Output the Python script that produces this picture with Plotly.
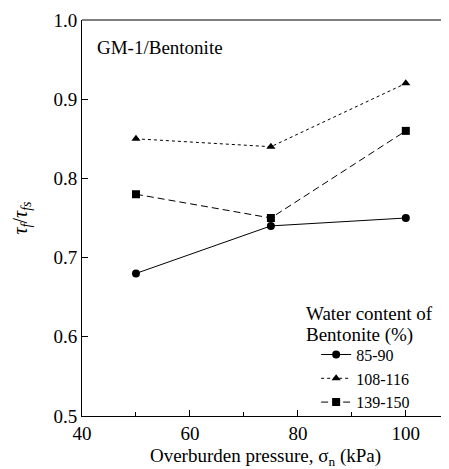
import plotly.graph_objects as go

pressure = [50, 75, 100]
series_names = ["85-90", "108-116", "139-150"]
ratio_85_90 = [0.68, 0.74, 0.75]
ratio_108_116 = [0.85, 0.84, 0.92]
ratio_139_150 = [0.78, 0.75, 0.86]
legend_title_lines = ["Water content of", "Bentonite (%)"]

FONT = "'Liberation Serif', 'Times New Roman', Times, 'DejaVu Serif', serif"

fig = go.Figure()
styles = [
    (ratio_85_90, "circle", "solid"),
    (ratio_108_116, "triangle-up", "3px,3px"),
    (ratio_139_150, "square", "7px,4px"),
]
for name, (vals, sym, dash) in zip(series_names, styles):
    fig.add_trace(go.Scatter(
        x=pressure, y=vals, name=name, mode="lines+markers",
        line=dict(color="black", width=1, dash=dash),
        marker=dict(symbol=sym, size=8, color="black"),
    ))

annotations = [dict(
    x=0.035, y=0.93, xref="paper", yref="paper", xanchor="left", yanchor="middle",
    text="GM-1/Bentonite", showarrow=False, font=dict(family=FONT, size=19),
)]
for txt, yy in zip(legend_title_lines, [0.260, 0.2045]):
    annotations.append(dict(
        x=0.605, y=yy, xref="paper", yref="paper", xanchor="left", yanchor="middle",
        text=txt, showarrow=False, font=dict(family=FONT, size=19),
    ))

# page body has an 8px margin, so the figure is shifted by (8, 8)
fig.update_layout(
    width=441, height=461,
    margin=dict(l=74, r=0, t=12, b=53),
    plot_bgcolor="white", paper_bgcolor="white",
    font=dict(family=FONT, size=18, color="black"),
    showlegend=True,
    legend=dict(
        x=0.638, xanchor="left", y=0.198, yanchor="top",
        font=dict(family=FONT, size=16), bgcolor="rgba(0,0,0,0)", tracegroupgap=0,
        itemwidth=30,
    ),
    annotations=annotations,
)
fig.update_xaxes(
    range=[40, 108], tickvals=[40, 60, 80, 100], ticks="inside", ticklen=6,
    showline=True, linecolor="black", linewidth=1, mirror=False, showgrid=False,
    zeroline=False, minor=dict(tickvals=[50, 70, 90], ticks="inside", ticklen=4, tickcolor="black"),
    tickcolor="black", tickfont=dict(family=FONT, size=19),
    title=dict(text="Overburden pressure, σ<sub>n</sub> (kPa)", font=dict(family=FONT, size=19), standoff=6),
)
fig.update_yaxes(
    range=[0.5, 1.0], tickvals=[0.5, 0.6, 0.7, 0.8, 0.9, 1.0], tickformat=".1f",
    ticks="inside", ticklen=6, tickcolor="black", tickfont=dict(family=FONT, size=19),
    showline=True, linecolor="black", linewidth=1, showgrid=False, zeroline=False,
    title=dict(text="<i>τ<sub>f</sub></i>/<i>τ<sub>fs</sub></i>", font=dict(family=FONT, size=20), standoff=20),
)
fig.add_shape(type="line", xref="paper", yref="paper", x0=0, x1=1, y0=1, y1=1,
              line=dict(color="black", width=1))

fig.write_html("out.html")
